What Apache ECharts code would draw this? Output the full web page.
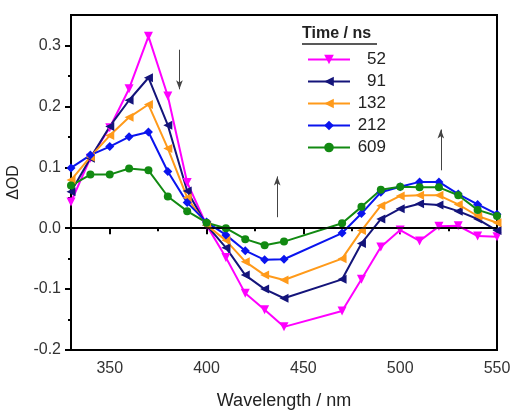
<!DOCTYPE html>
<html>
<head>
<meta charset="utf-8">
<script src="https://cdn.jsdelivr.net/npm/echarts@6/dist/echarts.min.js"></script>
<style>
  html, body { margin: 0; padding: 0; background: #fff; }
  #chart { width: 513px; height: 410px; }
</style>
</head>
<body>
<div id="chart"></div>
<script>
  // wavelength points (nm)
  const wavelengths = [330, 340, 350, 360, 370, 380, 390, 400, 410, 420, 430, 440, 470, 480, 490, 500, 510, 520, 530, 540, 550]

  // ΔOD at each delay time
  const od52 = [0.043, 0.115, 0.165, 0.229, 0.315, 0.217, 0.075, 0.005, -0.048, -0.107, -0.134, -0.162, -0.136, -0.084, -0.031, -0.003, -0.021, 0.003, 0.004, -0.013, -0.014]
  const od91 = [0.060, 0.115, 0.167, 0.210, 0.247, 0.169, 0.061, 0.005, -0.032, -0.077, -0.100, -0.115, -0.084, -0.025, 0.015, 0.032, 0.040, 0.038, 0.028, 0.015, -0.004]
  const od132 = [0.079, 0.117, 0.152, 0.182, 0.203, 0.131, 0.050, 0.005, -0.020, -0.055, -0.077, -0.085, -0.050, -0.004, 0.037, 0.053, 0.054, 0.054, 0.039, 0.020, 0.009]
  const od212 = [0.099, 0.120, 0.134, 0.150, 0.158, 0.093, 0.042, 0.010, -0.011, -0.037, -0.052, -0.051, -0.008, 0.024, 0.059, 0.068, 0.076, 0.076, 0.056, 0.039, 0.023]
  const od609 = [0.070, 0.088, 0.088, 0.098, 0.095, 0.052, 0.028, 0.009, 0.000, -0.018, -0.028, -0.022, 0.008, 0.035, 0.063, 0.068, 0.067, 0.067, 0.054, 0.030, 0.020]

  const times = ['52', '91', '132', '212', '609']
  const xTicks = [350, 400, 450, 500, 550]
  const xMinor = [375, 425, 475, 525]
  const yTicks = [-0.2, -0.1, 0.0, 0.1, 0.2, 0.3]
  const yMinor = [-0.15, -0.05, 0.05, 0.15, 0.25]

  const font = 'Liberation Sans, Arial, sans-serif'
  const colors = ['#ff00ff', '#14147a', '#ff9a1a', '#0a14ee', '#128a12']
  const symbols = [
    'path://M0,0 L10,0 L5,9 Z',
    'path://M10,0 L10,10 L0,5 Z',
    'path://M10,0 L10,10 L0,5 Z',
    'diamond',
    'circle'
  ]
  const values = [od52, od91, od132, od212, od609]

  let chart = echarts.init(document.getElementById('chart'))

  const series = values.map((vals, i) => ({
    name: times[i],
    type: 'line',
    data: wavelengths.map((w, j) => [w, vals[j]]),
    symbol: symbols[i],
    symbolSize: i === 4 ? 8 : 9,
    showAllSymbol: true,
    lineStyle: { color: colors[i], width: 2 },
    itemStyle: { color: colors[i] },
    z: 3
  }))

  // zero line and arrows
  const arrowLine = { color: '#444', width: 1, type: 'solid' }
  series.push({
    name: 'annot',
    type: 'line',
    data: [],
    silent: true,
    z: 2,
    markLine: {
      silent: true,
      animation: false,
      label: { show: false },
      data: [
        [
          { coord: [330, 0], symbol: 'none', lineStyle: { color: '#000', width: 1.5, type: 'solid' } },
          { coord: [550, 0], symbol: 'none' }
        ],
        [
          { coord: [386, 0.293], symbol: 'none', lineStyle: arrowLine },
          { coord: [386, 0.228], symbol: 'arrow', symbolSize: [5, 9] }
        ],
        [
          { coord: [436.5, 0.018], symbol: 'none', lineStyle: arrowLine },
          { coord: [436.5, 0.085], symbol: 'arrow', symbolSize: [5, 9] }
        ],
        [
          { coord: [521, 0.095], symbol: 'none', lineStyle: arrowLine },
          { coord: [521, 0.162], symbol: 'arrow', symbolSize: [5, 9] }
        ]
      ]
    }
  })

  const options = {
    animation: false,
    textStyle: { fontFamily: font },
    grid: {
      left: 71, top: 15, right: 16, bottom: 60,
      outerBoundsMode: 'none',
      containLabel: false,
      show: true,
      borderColor: '#000',
      borderWidth: 2
    },
    legend: {
      data: times,
      orient: 'vertical',
      left: 302,
      top: 46,
      itemWidth: 42,
      itemHeight: 12,
      itemGap: 5,
      formatter: name => '{a|' + name + '}',
      textStyle: {
        fontFamily: font,
        fontSize: 17,
        color: '#222',
        rich: {
          a: { width: 31, align: 'right', fontSize: 17, fontFamily: font, color: '#222' }
        }
      }
    },
    graphic: [
      {
        type: 'text',
        left: 302,
        top: 26,
        style: { text: 'Time / ns', font: 'bold 16px ' + font, fill: '#222' }
      },
      {
        type: 'line',
        shape: { x1: 302, y1: 44, x2: 377, y2: 44 },
        style: { stroke: '#222', lineWidth: 1.3 }
      }
    ],
    xAxis: [
      {
        type: 'value',
        min: 330,
        max: 550,
        name: 'Wavelength / nm',
        nameLocation: 'middle',
        nameGap: 42,
        nameTextStyle: { fontFamily: font, fontSize: 18, color: '#222' },
        splitLine: { show: false },
        axisLine: { lineStyle: { color: '#000', width: 2 } },
        axisTick: { customValues: xTicks, length: 6, lineStyle: { color: '#000', width: 2 } },
        axisLabel: { customValues: xTicks, fontSize: 16, color: '#333', margin: 11 }
      },
      {
        type: 'value',
        min: 330,
        max: 550,
        position: 'bottom',
        splitLine: { show: false },
        axisLine: { show: false },
        axisTick: { customValues: xMinor, length: 3, lineStyle: { color: '#000', width: 2 } },
        axisLabel: { show: false }
      }
    ],
    yAxis: [
      {
        type: 'value',
        min: -0.2,
        max: 0.35,
        name: 'ΔOD',
        nameLocation: 'middle',
        nameGap: 49,
        nameRotate: 90,
        nameTextStyle: { fontFamily: font, fontSize: 16, color: '#222' },
        splitLine: { show: false },
        axisLine: { lineStyle: { color: '#000', width: 2 } },
        axisTick: { customValues: yTicks, length: 6, lineStyle: { color: '#000', width: 2 } },
        axisLabel: {
          customValues: yTicks,
          fontSize: 16,
          color: '#333',
          margin: 10,
          formatter: v => v.toFixed(1)
        }
      },
      {
        type: 'value',
        min: -0.2,
        max: 0.35,
        position: 'left',
        splitLine: { show: false },
        axisLine: { show: false },
        axisTick: { customValues: yMinor, length: 3, lineStyle: { color: '#000', width: 2 } },
        axisLabel: { show: false }
      }
    ],
    series: series
  }

  chart.setOption(options)
</script>
</body>
</html>
